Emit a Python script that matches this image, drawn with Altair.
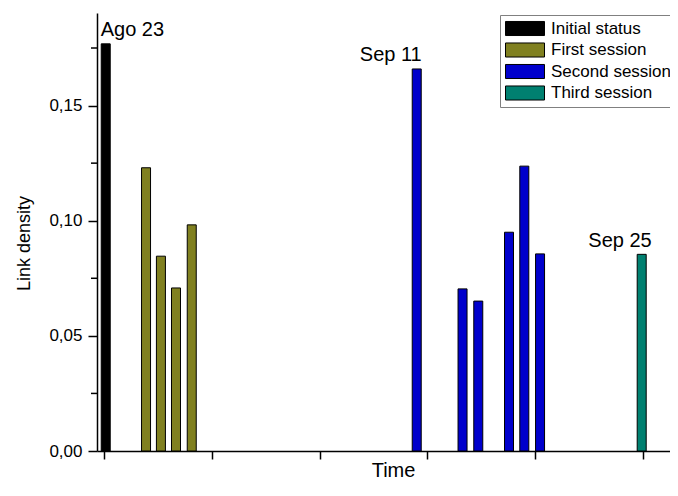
import altair as alt
import pandas as pd

FONT = "Liberation Sans, Arial, sans-serif"

# ---- data (time in axis-tick units, link density) ----
series = ["Initial status", "First session", "Second session", "Third session"]
colors = ["#000000", "#808020", "#0000CC", "#008070"]

initial_t = [0.016]
initial_v = [0.1768]
first_t = [0.390, 0.528, 0.668, 0.814]
first_v = [0.1230, 0.0846, 0.0708, 0.0982]
second_t = [2.901, 3.326, 3.472, 3.757, 3.899, 4.045]
second_v = [0.1659, 0.0704, 0.0651, 0.0950, 0.1237, 0.0856]
third_t = [4.988]
third_v = [0.0854]

x_ticks = [0, 1, 2, 3, 4, 5]
y_major = [0.0, 0.05, 0.10, 0.15]
y_minor = [0.025, 0.075, 0.125, 0.175]
date_labels = ["Ago 23", "Sep 11", "Sep 25"]

# ---- tables ----
rows = []
for name, ts, vs in zip(series, [initial_t, first_t, second_t, third_t],
                        [initial_v, first_v, second_v, third_v]):
    for t, v in zip(ts, vs):
        rows.append({"series": name, "t": t, "value": v})
df = pd.DataFrame(rows)

minor_df = pd.DataFrame({"value": y_minor})
ann_df = pd.DataFrame({
    "label": date_labels,
    "t": [initial_t[0], second_t[0], third_t[0]],
    "value": [initial_v[0], second_v[0], third_v[0]],
})

xscale = alt.Scale(domain=[-0.0649, 5.2505], nice=False, zero=False, padding=0)
yscale = alt.Scale(domain=[0, 0.1902], nice=False, zero=True, padding=0)

xaxis = alt.Axis(values=x_ticks, labels=False, tickSize=8, title="Time",
                 titleFontSize=20, titleFontWeight="normal",
                 titleX=296, titleY=25, titleAlign="center",
                 titleBaseline="alphabetic")
yaxis = alt.Axis(values=y_major, format=".2f",
                 labelExpr="replace(datum.label, '.', ',')",
                 labelFontSize=17, labelPadding=6, tickSize=9,
                 title="Link density", titleFontSize=18,
                 titleFontWeight="normal", titleX=-72.5, titleY=230,
                 titleAlign="center", titleBaseline="middle",
                 titleAngle=270)

X = lambda: alt.X("t:Q", scale=xscale, axis=xaxis)
Y = lambda: alt.Y("value:Q", scale=yscale, axis=yaxis)

bars = alt.Chart(df).mark_bar(size=9, stroke="black", strokeWidth=1).encode(
    x=X(),
    y=Y(),
    color=alt.Color("series:N",
                    scale=alt.Scale(domain=series, range=colors),
                    legend=alt.Legend(title=None, orient="none", legendX=403, legendY=2,
                                      symbolType="M-1,-0.36H1V0.36H-1Z", symbolSize=1521,
                                      symbolStrokeColor="black", symbolStrokeWidth=1,
                                      symbolOpacity=1, clipHeight=17,
                                      labelFontSize=17, labelFont=FONT, labelColor="black",
                                      labelOffset=6, labelLimit=300,
                                      strokeColor="#808080", fillColor="white",
                                      padding=5, rowPadding=3.5)),
)

minor = alt.Chart(minor_df).mark_rule(color="black", strokeWidth=1.5).encode(
    y=Y(),
    x=alt.value(-6),
    x2=alt.value(0),
)

def ann(i, align, dx, dy):
    return alt.Chart(ann_df.iloc[[i]]).mark_text(
        align=align, baseline="alphabetic", dx=dx, dy=dy,
        fontSize=20, font=FONT, color="black"
    ).encode(
        x=X(),
        y=Y(),
        text="label:N",
    )

chart = alt.layer(
    bars, minor,
    ann(0, "left", -5, -8),
    ann(1, "right", 5, -8),
    ann(2, "right", 10, -7),
).properties(
    width=573, height=438,
    autosize=alt.AutoSizeParams(type="none"),
    padding={"left": 89, "top": 5, "right": 0, "bottom": 31},
).configure_view(stroke=None).configure_axis(
    grid=False, domainColor="black", tickColor="black", labelColor="black",
    titleColor="black", labelFont=FONT, titleFont=FONT,
    domainWidth=1.5, tickWidth=1.5,
)

chart.save("out.html", embed_options={"renderer": "svg", "actions": False})
